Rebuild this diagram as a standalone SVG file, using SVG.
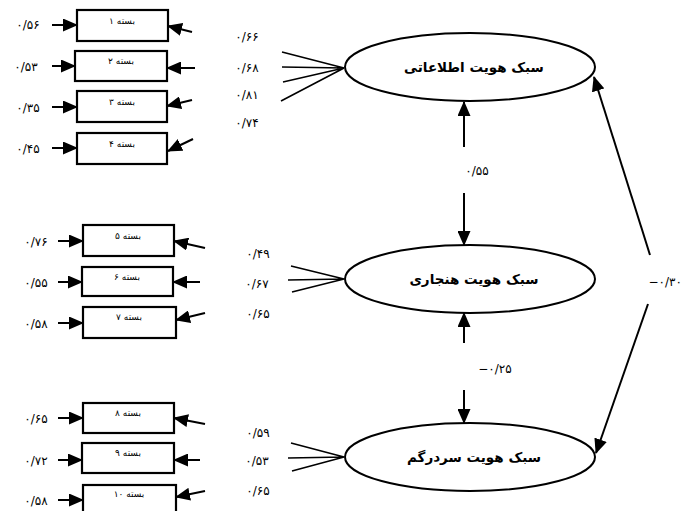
<svg xmlns="http://www.w3.org/2000/svg" width="684" height="511" viewBox="0 0 684 511">
<defs>
<marker id="ah" markerWidth="15" markerHeight="13" refX="14" refY="6.5" orient="auto" markerUnits="userSpaceOnUse">
<path d="M0,0 L15,6.5 L0,13 Z" fill="#000"/>
</marker>
<style>
.box{fill:#fff;stroke:#000;stroke-width:2.2}
.ell{fill:#fff;stroke:#000;stroke-width:2}
.ln{stroke:#000;stroke-width:1.6;fill:none}
.arr{stroke:#000;stroke-width:2;fill:none;marker-end:url(#ah)}
.bt{font-family:"DejaVu Sans",sans-serif;font-size:9px;text-anchor:middle}
.nt{font-family:"DejaVu Sans",sans-serif;font-size:12px;text-anchor:middle}
.et{font-family:"DejaVu Sans",sans-serif;font-size:13.5px;font-weight:bold;text-anchor:middle}
</style>
</defs>
<rect width="684" height="511" fill="#fff"/>

<g id="connectors">
<line class="arr" x1="52" y1="25" x2="77" y2="25"/>
<line class="arr" x1="52" y1="66" x2="75" y2="66"/>
<line class="arr" x1="52" y1="107" x2="77" y2="107"/>
<line class="arr" x1="52" y1="148" x2="77" y2="148"/>
<line class="arr" x1="58" y1="241" x2="83" y2="241"/>
<line class="arr" x1="58" y1="282" x2="82" y2="282"/>
<line class="arr" x1="58" y1="323" x2="83" y2="323"/>
<line class="arr" x1="58" y1="418" x2="83" y2="418"/>
<line class="arr" x1="58" y1="460" x2="82" y2="460"/>
<line class="arr" x1="58" y1="500" x2="83" y2="500"/>
<line class="arr" x1="192" y1="32" x2="168" y2="26"/>
<line class="arr" x1="195" y1="68" x2="167" y2="68"/>
<line class="arr" x1="192" y1="100" x2="167" y2="106"/>
<line class="arr" x1="193" y1="139" x2="168" y2="151"/>
<line class="arr" x1="205" y1="248" x2="174" y2="241"/>
<line class="arr" x1="200" y1="282" x2="173" y2="282"/>
<line class="arr" x1="205" y1="313" x2="176" y2="320"/>
<line class="arr" x1="205" y1="424" x2="174" y2="418"/>
<line class="arr" x1="200" y1="460" x2="174" y2="460"/>
<line class="arr" x1="205" y1="491" x2="176" y2="497"/>
<path class="ln" d="M344,68 L282,52 M344,68 L282,67 M344,68 L283,82 M344,68 L281,101"/>
<path class="ln" d="M344,279 L291,266 M344,279 L288,280 M344,279 L292,292"/>
<path class="ln" d="M344,457 L291,443 M344,457 L288,458 M344,457 L292,471"/>
<line class="arr" x1="464" y1="147" x2="464" y2="102"/>
<line class="arr" x1="464" y1="193" x2="464" y2="245"/>
<line class="arr" x1="464" y1="343" x2="464" y2="313"/>
<line class="arr" x1="464" y1="390" x2="464" y2="423"/>
<line class="arr" x1="650" y1="255" x2="594" y2="77"/>
<line class="arr" x1="648" y1="304" x2="596" y2="453"/>
</g>

<g id="box1"><rect class="box" x="77" y="10" width="91" height="31"/><text class="bt" x="122" y="24">بسته ۱</text></g>
<g id="box2"><rect class="box" x="75" y="51" width="92" height="30"/><text class="bt" x="121" y="64">بسته ۲</text></g>
<g id="box3"><rect class="box" x="77" y="91" width="90" height="31"/><text class="bt" x="122" y="105">بسته ۳</text></g>
<g id="box4"><rect class="box" x="77" y="133" width="90" height="31"/><text class="bt" x="122" y="147">بسته ۴</text></g>
<g id="box5"><rect class="box" x="83" y="225" width="91" height="31"/><text class="bt" x="128" y="239">بسته ۵</text></g>
<g id="box6"><rect class="box" x="82" y="267" width="91" height="29"/><text class="bt" x="127" y="280">بسته ۶</text></g>
<g id="box7"><rect class="box" x="83" y="307" width="93" height="31"/><text class="bt" x="129" y="320">بسته ۷</text></g>
<g id="box8"><rect class="box" x="83" y="403" width="91" height="30"/><text class="bt" x="128" y="416">بسته ۸</text></g>
<g id="box9"><rect class="box" x="82" y="443" width="92" height="30"/><text class="bt" x="128" y="456">بسته ۹</text></g>
<g id="box10"><rect class="box" x="83" y="485" width="93" height="34"/><text class="bt" x="129" y="497">بسته ۱۰</text></g>

<g id="labels-left">
<text class="nt" x="28" y="29">۰/۵۶</text>
<text class="nt" x="26" y="71">۰/۵۳</text>
<text class="nt" x="28" y="112">۰/۳۵</text>
<text class="nt" x="28" y="153">۰/۴۵</text>
<text class="nt" x="36" y="246">۰/۷۶</text>
<text class="nt" x="36" y="287">۰/۵۵</text>
<text class="nt" x="36" y="328">۰/۵۸</text>
<text class="nt" x="36" y="423">۰/۶۵</text>
<text class="nt" x="36" y="465">۰/۷۲</text>
<text class="nt" x="36" y="505">۰/۵۸</text>
</g>

<g id="labels-loadings">
<text class="nt" x="247" y="41">۰/۶۶</text>
<text class="nt" x="247" y="72">۰/۶۸</text>
<text class="nt" x="247" y="99">۰/۸۱</text>
<text class="nt" x="247" y="127">۰/۷۴</text>
<text class="nt" x="258" y="258">۰/۴۹</text>
<text class="nt" x="257" y="288">۰/۶۷</text>
<text class="nt" x="258" y="318">۰/۶۵</text>
<text class="nt" x="258" y="437">۰/۵۹</text>
<text class="nt" x="257" y="465">۰/۵۳</text>
<text class="nt" x="258" y="495">۰/۶۵</text>
</g>

<g id="ell1"><ellipse class="ell" cx="470" cy="67" rx="125" ry="34"/><text class="et" x="474" y="72">سبک هویت اطلاعاتی</text></g>
<g id="ell2"><ellipse class="ell" cx="470" cy="279" rx="125" ry="34"/><text class="et" x="474" y="284">سبک هویت هنجاری</text></g>
<g id="ell3"><ellipse class="ell" cx="470" cy="457" rx="125" ry="34"/><text class="et" x="474" y="462">سبک هویت سردرگم</text></g>

<g id="labels-corr">
<text class="nt" x="477" y="175">۰/۵۵</text>
<text class="nt" x="495" y="373">−۰/۲۵</text>
<text class="nt" x="682" y="286" style="text-anchor:end">−۰/۳۰</text>
</g>
</svg>
